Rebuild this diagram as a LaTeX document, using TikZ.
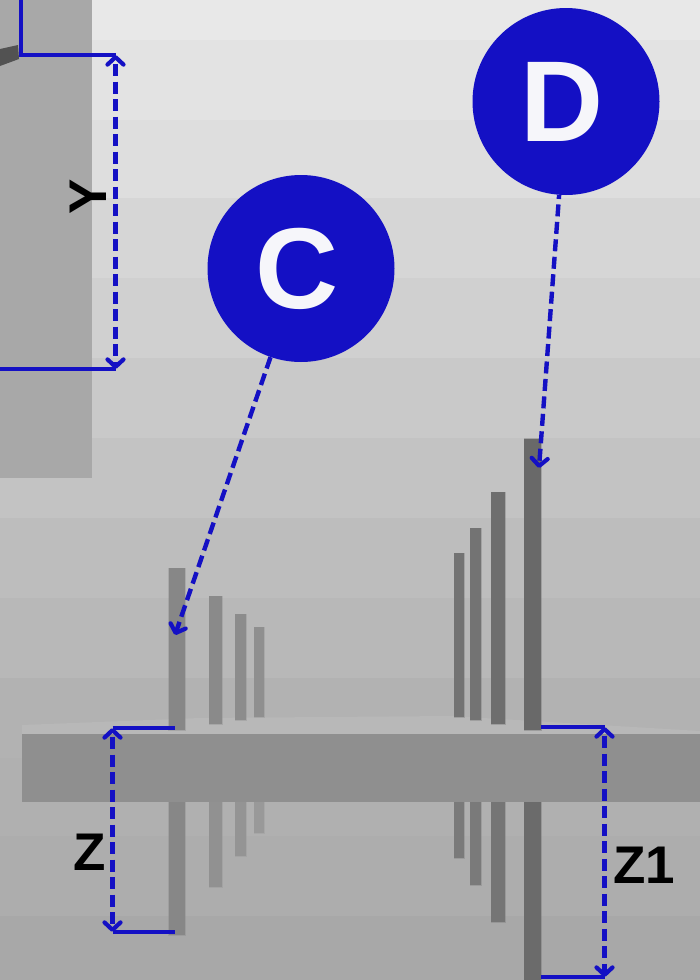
\documentclass[tikz,border=0pt]{standalone}
\usepackage{fontspec}
\setmainfont{Liberation Sans}
\usetikzlibrary{arrows.meta}
\definecolor{dimblue}{HTML}{1410C4}
\definecolor{glyphwhite}{HTML}{F6F6FA}
\tikzset{
  bar/.style={fill=black!#1,draw=black!#1!white,draw opacity=.35,line width=.8pt},
  callout/.style={circle,fill=dimblue,minimum size=187pt,inner sep=0pt,text=glyphwhite,font=\fontsize{115}{115}\selectfont\bfseries},
  dimlabel/.style={inner sep=0pt,text=black,font=\fontsize{53}{53}\selectfont\bfseries},
  witness/.style={draw=dimblue,line width=3.4pt},
  dimarrow/.style={draw=dimblue,line width=4.4pt,dash pattern=on 12pt off 5.5pt,dash phase=12.5pt,
    arrows={Straight Barb[length=7.5pt,width=16pt,line width=4.2pt,round]-Straight Barb[length=7.5pt,width=16pt,line width=4.2pt,round]}},
  leader/.style={draw=dimblue,line width=4.4pt,dash pattern=on 12pt off 5.5pt,
    arrows={-Straight Barb[length=7.5pt,width=16pt,line width=4.2pt,round]}}
}
\begin{document}
\begin{tikzpicture}[x=1pt,y=-1pt]
\useasboundingbox (0,0) rectangle (700,980);
% stepped background
\fill[black!9]  (0,0)   rectangle (700,40);
\fill[black!11] (0,40)  rectangle (700,120);
\fill[black!13] (0,120) rectangle (700,198);
\fill[black!16] (0,198) rectangle (700,278);
\fill[black!18.5] (0,278) rectangle (700,358);
\fill[black!21] (0,358) rectangle (700,438);
\fill[black!23.5] (0,438) rectangle (700,518);
\fill[black!26] (0,518) rectangle (700,598);
\fill[black!28] (0,598) rectangle (700,678);
\fill[black!30] (0,678) rectangle (700,758);
\fill[black!31] (0,758) rectangle (700,836);
\fill[black!32] (0,836) rectangle (700,916);
\fill[black!34] (0,916) rectangle (700,980);
% left block
\fill[black!34] (0,0) rectangle (92,478);
\fill[black!68] (0,49) -- (18,45) -- (19,59) -- (0,66) -- cycle;
% plate
\fill[black!28] (22,725) -- (200,718) -- (450,716) -- (700,731) -- (700,735) -- (22,735) -- cycle;
\fill[black!44] (22,734) rectangle (700,802);
% upper bars, left group
\path[bar=47] (168.5,568) rectangle (185,730);
\path[bar=46] (209,596) rectangle (222,724);
\path[bar=45] (235,614) rectangle (246,720);
\path[bar=44] (254,627) rectangle (264,717);
% lower bars, left group
\path[bar=47] (168.5,802) rectangle (185,935);
\path[bar=43] (209,802) rectangle (222,887);
\path[bar=42] (235,802) rectangle (246,856);
\path[bar=40] (254,802) rectangle (264,833);
% upper bars, right group
\path[bar=55] (454,553) rectangle (464,717);
\path[bar=55] (470,528) rectangle (481,720);
\path[bar=57] (491,492) rectangle (505,724);
\path[bar=59] (524,438.5) rectangle (541,730);
% lower bars, right group
\path[bar=52] (454,802) rectangle (464,858);
\path[bar=52] (470,802) rectangle (481,885);
\path[bar=54] (491,802) rectangle (505,922);
\path[bar=58] (524,802) rectangle (541,980);
% callouts
\node[callout] (C) at (301,268.5) {\makebox[0pt]{\hspace{-7pt}C}};
\node[callout] (D) at (566,101.5) {\makebox[0pt]{\hspace{-8pt}D}};
% free ends
\coordinate (Ctip) at (175,635);
\coordinate (Dtip) at (539,468);
\coordinate (Ytop) at (115.5,55);
\coordinate (Ybot) at (115.5,369);
\coordinate (Ycorner) at (21,55);
\coordinate (Yup) at (21,0);
\coordinate (Yleft) at (0,369);
\coordinate (Ztop) at (112.5,728);
\coordinate (Zbot) at (112.5,932);
\coordinate (ZtopB) at (175,728);
\coordinate (ZbotB) at (175,932);
\coordinate (Zatop) at (604.5,727);
\coordinate (Zabot) at (604.5,977);
\coordinate (ZatopB) at (541,727);
\coordinate (ZabotB) at (541,977);
% witness lines
\draw[witness,line join=miter] (Yup) -- (Ycorner) -- (Ytop);
\draw[witness] (Yleft) -- (Ybot);
\draw[witness] (Ztop) -- (ZtopB);
\draw[witness] (Zbot) -- (ZbotB);
\draw[witness] (ZatopB) -- (Zatop);
\draw[witness] (ZabotB) -- (Zabot);
% dimensions
\draw[dimarrow] (Ytop) -- (Ybot);
\draw[dimarrow] (Ztop) -- (Zbot);
\draw[dimarrow] (Zatop) -- (Zabot);
\draw[leader] (C) -- (Ctip);
\draw[leader,dash phase=8pt] (D) -- (Dtip);
% labels
\node[dimlabel,rotate=90] (Ylab) at (88,197) {Y};
\node[dimlabel] (Zlab) at (90,852) {Z};
\node[dimlabel] (Z1lab) at (644,865) {Z1};
\end{tikzpicture}
\end{document}
